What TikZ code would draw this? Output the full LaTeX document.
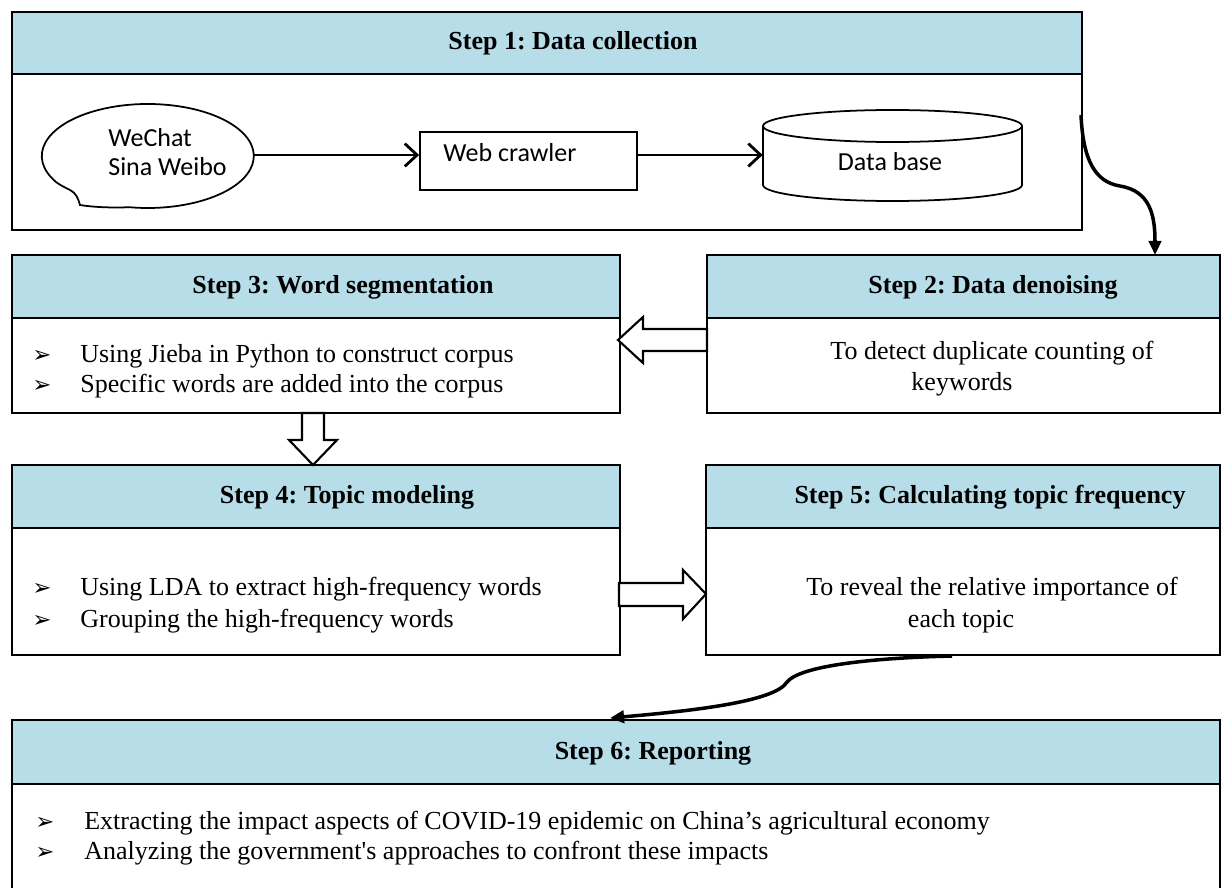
\documentclass[tikz,border=0pt]{standalone}
\usepackage{fontspec}
\setmainfont{Liberation Serif}
\newfontfamily\sansf{Carlito}
\newfontfamily\dejavu{DejaVu Sans}
\usetikzlibrary{arrows.meta,fit,calc}
\definecolor{hdrblue}{HTML}{B7DDE8}
\frenchspacing
\begin{document}
\begin{tikzpicture}[x=0.02cm,y=-0.02cm,
  box/.style={draw=black, line width=1pt, inner sep=0pt},
  hdr/.style={draw=black, line width=1pt, fill=hdrblue, inner sep=0pt},
  ttl/.style={font=\fontsize{14.8}{18}\selectfont\bfseries, inner sep=0pt},
  txt/.style={font=\fontsize{14.8}{18}\selectfont, inner sep=0pt, anchor=west},
  ctxt/.style={font=\fontsize{14.8}{18}\selectfont, inner sep=0pt},
  sans/.style={font=\sansf\fontsize{14.8}{16.5}\selectfont, inner sep=0pt},
  bul/.style={font=\dejavu\fontsize{13}{14}\selectfont, inner sep=0pt},
  thinarr/.style={-{Straight Barb[length=7pt,width=13pt]}, line width=1.6pt},
  curv/.style={-{Triangle[length=8pt,width=7pt]}, line width=2pt},
  hollow/.style={draw=black, fill=white, line width=1.2pt, line join=miter}
]
\useasboundingbox (0,0) rectangle (1223,888);
\fill[white] (0,0) rectangle (1223,888);

% Step 1
\node[box, fit={(12,12) (1082,230)}] (s1) {};
\node[hdr, fit={(12,12) (1082,74)}] (s1h) {};
\node[ttl] (t1) at (573,43) {Step 1: Data collection};

% speech bubble
\node[inner sep=0pt, fit={(42,104) (254,206)}] (bub) {};
\draw[line width=1pt] (56,182) arc[start angle=150, end angle=460, x radius=106, y radius=52]
  .. controls (110,208) and (92,207) .. (80,205)
  .. controls (78,198) and (76,193) .. (70,190)
  .. controls (64,187) and (60,185) .. (56,182);
\node[sans, align=left, anchor=west] (bubt) at (108,152) {WeChat\\Sina Weibo};

% web crawler
\node[box, fit={(420,132) (637,190)}] (wc) {};
\node[sans, anchor=west] (wct) at (443,153) {Web crawler};

% database
\node[inner sep=0pt, fit={(763,110) (1022,202)}] (db) {};
\draw[line width=1pt] (763,126) -- (763,185)
  arc[start angle=180, end angle=0, x radius=129.5, y radius=16] -- (1022,126);
\draw[line width=1pt] (892.5,126) ellipse[x radius=129.5, y radius=16];
\node[sans] (dbt) at (890,162) {Data base};

\draw[thinarr] (bub.east) -- (bub.east -| wc.west);
\draw[thinarr] (bub.east -| wc.east) -- (bub.east -| db.west);

% Step 3
\node[box, fit={(12,255) (620,413)}] (s3) {};
\node[hdr, fit={(12,255) (620,318)}] (s3h) {};
\node[ttl] (t3) at (343,287) {Step 3: Word segmentation};
\node[bul] (b31) at (42,356) {➢};
\node[txt] (l31) at (80,356) {Using Jieba in Python to construct corpus};
\node[bul] (b32) at (42,386) {➢};
\node[txt] (l32) at (80,386) {Specific words are added into the corpus};

% Step 2
\node[box, fit={(707,255) (1220,413)}] (s2) {};
\node[hdr, fit={(707,255) (1220,318)}] (s2h) {};
\node[ttl] (t2) at (993,287) {Step 2: Data denoising};
\node[ctxt] (l21) at (992,353) {To detect duplicate counting of};
\node[ctxt] (l22) at (962,384) {keywords};

% Step 4
\node[box, fit={(12,465) (620,655)}] (s4) {};
\node[hdr, fit={(12,465) (620,528)}] (s4h) {};
\node[ttl] (t4) at (347,497) {Step 4: Topic modeling};
\node[bul] (b41) at (42,589) {➢};
\node[txt] (l41) at (80,589) {Using LDA to extract high-frequency words};
\node[bul] (b42) at (42,621) {➢};
\node[txt] (l42) at (80,621) {Grouping the high-frequency words};

% Step 5
\node[box, fit={(706,465) (1220,655)}] (s5) {};
\node[hdr, fit={(706,465) (1220,528)}] (s5h) {};
\node[ttl] (t5) at (990,497) {Step 5: Calculating topic frequency};
\node[ctxt] (l51) at (992,589) {To reveal the relative importance of};
\node[ctxt] (l52) at (961,621) {each topic};

% Step 6
\node[box, fit={(12,720) (1220,900)}] (s6) {};
\node[hdr, fit={(12,720) (1220,784)}] (s6h) {};
\node[ttl] (t6) at (653,753) {Step 6: Reporting};
\node[bul] (b61) at (45,823) {➢};
\node[txt] (l61) at (84,823) {Extracting the impact aspects of COVID-19 epidemic on China’s agricultural economy};
\node[bul] (b62) at (45,853) {➢};
\node[txt] (l62) at (84,853) {Analyzing the government\textquotesingle s approaches to confront these impacts};

% hollow arrows
\draw[hollow] (707,329) -- (643,329) -- (643,317) -- (618,340) -- (643,363) -- (643,351) -- (707,351) -- cycle;
\draw[hollow] (302,413) -- (302,440) -- (289,440) -- (313,465) -- (337,440) -- (324,440) -- (324,413) -- cycle;
\draw[hollow] (619,583) -- (683,583) -- (683,570) -- (706,594) -- (683,619) -- (683,606) -- (619,606) -- cycle;

% curved arrows
\coordinate (c1s) at (1081,115);
\coordinate (c1e) at (1155,255);
\draw[curv] (c1s) .. controls (1083,160) and (1095,182) .. (1120,186)
  .. controls (1150,191) and (1155,215) .. (c1e);
\coordinate (c2s) at (952,656);
\coordinate (c2e) at (610,718);
\draw[curv] (c2s) .. controls (870,658) and (800,666) .. (787,682)
  .. controls (775,702) and (690,711) .. (c2e);
\end{tikzpicture}
\end{document}
